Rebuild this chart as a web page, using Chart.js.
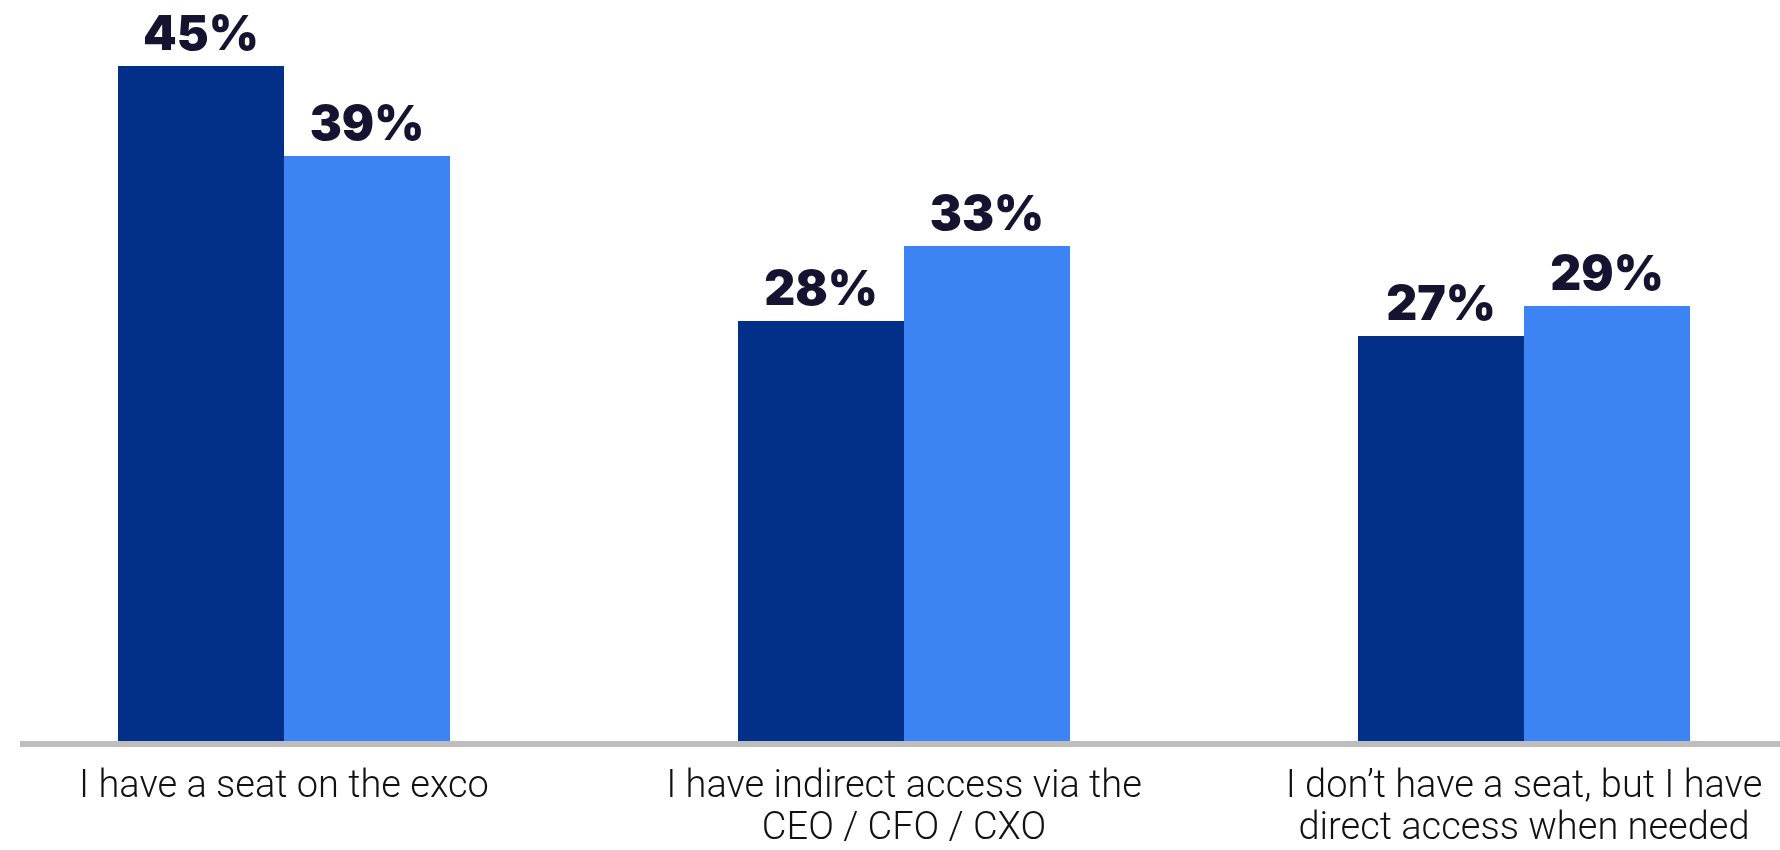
<!DOCTYPE html>
<html>
<head>
<meta charset="utf-8">
<script src="https://cdn.jsdelivr.net/npm/chart.js@4.4.1/dist/chart.umd.min.js"></script>
<style>
  html, body { margin: 0; padding: 0; background: #ffffff; }
  #wrap { width: 1780px; height: 850px; }
</style>
</head>
<body>
<div id="wrap"><canvas id="myChart" width="1780" height="850"></canvas></div>
<script>
// categories (multi-line labels as arrays)
const categories = [
  ["I have a seat on the exco"],
  ["I have indirect access via the", "CEO / CFO / CXO"],
  ["I don\u2019t have a seat, but I have", "direct access when needed"]
];
// two series, values in %
const seriesDark = [45, 28, 27];
const seriesLight = [39, 33, 29];
const valueSuffix = "%";

// labels over the bars
const barLabels = {
  id: "barLabels",
  afterDatasetsDraw(chart) {
    const ctx = chart.ctx;
    ctx.save();
    ctx.fillStyle = "#15132f";
    ctx.font = "900 48px Inter, Lato, sans-serif";
    ctx.textAlign = "center";
    ctx.textBaseline = "alphabetic";
    chart.data.datasets.forEach((ds, i) => {
      chart.getDatasetMeta(i).data.forEach((bar, j) => {
        ctx.fillText(ds.data[j] + valueSuffix, bar.x, bar.y - 16);
      });
    });
    ctx.restore();
  }
};

// grey base line running across the whole width
const baseLine = {
  id: "baseLine",
  beforeDatasetsDraw(chart) {
    const ctx = chart.ctx;
    const y0 = chart.scales.y.getPixelForValue(0);
    ctx.save();
    ctx.fillStyle = "#bdbdbd";
    ctx.fillRect(20, y0, chart.width - 20, 6);
    ctx.restore();
  }
};

const ctx = document.getElementById("myChart").getContext("2d");

const myChart = new Chart(ctx, {
  type: "bar",
  data: {
    labels: categories,
    datasets: [
      { data: seriesDark, backgroundColor: "#022f87", clip: false },
      { data: seriesLight, backgroundColor: "#3c83f4", clip: false }
    ]
  },
  options: {
    responsive: false,
    animation: false,
    events: [],
    categoryPercentage: 0.5355,
    barPercentage: 1,
    layout: { padding: { left: 284, right: 256, top: 0, bottom: 0 } },
    plugins: {
      legend: { display: false },
      tooltip: { enabled: false }
    },
    scales: {
      x: {
        offset: false,
        grid: { display: false, drawTicks: false },
        border: { display: false },
        ticks: {
          color: "#111111",
          font: { family: "Roboto, sans-serif", size: 38, weight: "300", lineHeight: 1.105 },
          padding: 26,
          maxRotation: 0,
          autoSkip: false
        },
        afterFit(scale) {
          scale.height = 109; // room under the axis for the two-line labels
          scale.paddingLeft = 0;
          scale.paddingRight = 0;
        }
      },
      y: {
        display: false,
        min: 0,
        max: 49.4
      }
    }
  },
  plugins: [baseLine, barLabels]
});
</script>
</body>
</html>
